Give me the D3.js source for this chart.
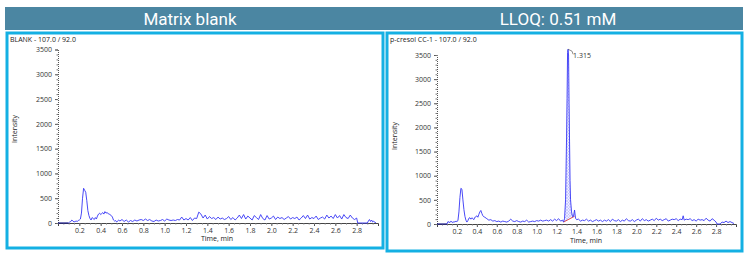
<!DOCTYPE html>
<html>
  <head>
    <meta charset="utf-8">
    <title>Chromatograms</title>
    <style>
      body { margin: 0; background: #fff; }
      svg text { font-family: "Open Sans", "DejaVu Sans", sans-serif; }
      .tick-label { font-size: 7px; fill: #333; }
      .axis-title { font-size: 7px; fill: #222; }
      .header { font-family: Roboto, "Open Sans", sans-serif; font-size: 17px; fill: #fff; text-anchor: middle; }
    </style>
  </head>
  <body>
    <div class="container"></div>
    <script src="https://cdn.jsdelivr.net/npm/d3@7"></script>
    <script>
    var width = 750;
    var height = 259;

    // panel headers and chromatogram titles
    var headers = ["Matrix blank", "LLOQ: 0.51 mM"];
    var titles = ["BLANK - 107.0 / 92.0", "p-cresol CC-1 - 107.0 / 92.0"];

    var yTicks = [0, 500, 1000, 1500, 2000, 2500, 3000, 3500];
    var xTicks = [0.2, 0.4, 0.6, 0.8, 1.0, 1.2, 1.4, 1.6, 1.8, 2.0, 2.2, 2.4, 2.6, 2.8];

    // blank trace (time in min, intensity)
    var blankTime = [0, 0.10, 0.11, 0.12, 0.13, 0.14, 0.15, 0.16, 0.17, 0.18, 0.19, 0.20, 0.21, 0.22, 0.23, 0.24, 0.25, 0.26, 0.27, 0.28, 0.29,
      0.30, 0.31, 0.32, 0.33, 0.34, 0.35, 0.36, 0.37, 0.38, 0.39, 0.40, 0.41, 0.42, 0.43, 0.44, 0.45, 0.46, 0.47, 0.48, 0.50,
      0.51, 0.52, 0.53, 0.54, 0.55, 0.57, 0.58, 0.60, 0.62, 0.64, 0.66, 0.68, 0.70, 0.72, 0.74, 0.76, 0.78, 0.80, 0.82, 0.84,
      0.86, 0.88, 0.90, 0.92, 0.94, 0.96, 0.98, 1.00, 1.02, 1.04, 1.06, 1.08, 1.10, 1.12, 1.14, 1.16, 1.18, 1.20, 1.22, 1.24,
      1.26, 1.28, 1.30, 1.32, 1.34, 1.36, 1.38, 1.40, 1.42, 1.44, 1.46, 1.48, 1.50, 1.52, 1.54, 1.56, 1.58, 1.60, 1.62, 1.64,
      1.66, 1.68, 1.70, 1.72, 1.74, 1.76, 1.78, 1.80, 1.82, 1.84, 1.86, 1.88, 1.90, 1.92, 1.94, 1.96, 1.98, 2.00, 2.02, 2.04,
      2.06, 2.08, 2.10, 2.12, 2.14, 2.16, 2.18, 2.20, 2.22, 2.24, 2.26, 2.28, 2.30, 2.32, 2.34, 2.36, 2.38, 2.40, 2.42, 2.44,
      2.46, 2.48, 2.50, 2.52, 2.54, 2.56, 2.58, 2.60, 2.62, 2.64, 2.66, 2.68, 2.70, 2.72, 2.74, 2.76, 2.78, 2.80, 2.81, 2.90,
      2.91, 2.92, 2.93, 2.94, 2.95, 2.96, 2.97, 2.98];
    var blankIntensity = [0, 0, 20, 30, 60, 40, 20, 30, 40, 30, 50, 60, 80, 200, 500, 700, 660, 620, 450, 250, 150,
      90, 60, 110, 90, 70, 110, 80, 140, 180, 200, 170, 190, 210, 180, 230, 200, 210, 190, 180, 150,
      120, 60, 40, 50, 20, 60, 40, 70, 30, 60, 20, 50, 30, 60, 40, 60, 70, 50, 80, 50,
      70, 40, 30, 60, 40, 50, 70, 40, 80, 60, 50, 60, 50, 70, 60, 120, 60, 90, 60, 110,
      50, 100, 90, 220, 180, 100, 160, 80, 130, 90, 110, 70, 120, 80, 100, 70, 90, 130, 70, 110,
      60, 100, 160, 90, 170, 80, 140, 100, 60, 150, 110, 70, 170, 90, 60, 150, 80, 100, 140, 70,
      120, 90, 110, 70, 100, 130, 80, 110, 90, 120, 60, 100, 150, 90, 160, 80, 110, 90, 140, 70,
      100, 120, 80, 160, 100, 140, 90, 170, 100, 150, 80, 170, 110, 90, 160, 100, 70, 100, 0, 0,
      40, 70, 30, 60, 20, 40, 10, 10];

    // p-cresol trace
    var sampleTime = [0, 0.10, 0.11, 0.12, 0.13, 0.14, 0.15, 0.16, 0.17, 0.18, 0.19, 0.20, 0.21, 0.22, 0.23, 0.24, 0.25, 0.26, 0.27, 0.28, 0.29,
      0.30, 0.31, 0.32, 0.33, 0.34, 0.35, 0.36, 0.37, 0.38, 0.39, 0.40, 0.41, 0.42, 0.43, 0.44, 0.45, 0.46, 0.47, 0.48, 0.50,
      0.52, 0.54, 0.56, 0.58, 0.60, 0.62, 0.64, 0.66, 0.68, 0.70, 0.72, 0.74, 0.76, 0.78, 0.80, 0.82, 0.84, 0.86, 0.88, 0.90,
      0.92, 0.94, 0.96, 0.98, 1.00, 1.02, 1.04, 1.06, 1.08, 1.10, 1.12, 1.14, 1.16, 1.18, 1.20, 1.22, 1.24, 1.26, 1.27, 1.28,
      1.29, 1.30, 1.305, 1.31, 1.315, 1.32, 1.325, 1.33, 1.335, 1.34, 1.35, 1.36, 1.37, 1.38, 1.39, 1.40, 1.42, 1.44, 1.46, 1.48,
      1.50, 1.52, 1.54, 1.56, 1.58, 1.60, 1.62, 1.64, 1.66, 1.68, 1.70, 1.72, 1.74, 1.76, 1.78, 1.80, 1.82, 1.84, 1.86, 1.88,
      1.90, 1.92, 1.94, 1.96, 1.98, 2.00, 2.02, 2.04, 2.06, 2.08, 2.10, 2.12, 2.14, 2.16, 2.18, 2.20, 2.22, 2.24, 2.26, 2.28,
      2.30, 2.32, 2.34, 2.36, 2.38, 2.40, 2.42, 2.44, 2.46, 2.47, 2.48, 2.50, 2.52, 2.54, 2.56, 2.58, 2.60, 2.62, 2.64, 2.66,
      2.68, 2.70, 2.72, 2.74, 2.76, 2.78, 2.80, 2.81, 2.84, 2.86, 2.88, 2.90, 2.92, 2.94, 2.96, 2.98];
    var sampleIntensity = [0, 0, 50, 40, 30, 60, 40, 30, 50, 40, 60, 50, 70, 250, 550, 740, 720, 500, 300, 160, 80,
      40, 70, 120, 130, 100, 130, 110, 90, 140, 150, 170, 140, 200, 250, 280, 220, 170, 150, 140, 110,
      80, 90, 60, 70, 50, 60, 40, 60, 50, 40, 60, 100, 60, 50, 70, 50, 40, 60, 50, 80,
      40, 50, 60, 50, 70, 60, 80, 60, 70, 80, 60, 90, 60, 100, 70, 110, 60, 80, 40, 120,
      500, 1800, 2600, 3550, 3620, 3500, 2500, 1700, 900, 500, 250, 150, 160, 290, 120, 90, 100, 60, 80, 70,
      100, 60, 80, 50, 70, 90, 60, 80, 50, 80, 60, 90, 50, 100, 70, 60, 90, 50, 80, 60,
      110, 70, 60, 90, 50, 80, 100, 60, 110, 70, 90, 60, 80, 100, 70, 120, 80, 100, 70, 90,
      110, 60, 80, 100, 90, 110, 70, 100, 90, 170, 80, 100, 90, 110, 70, 90, 60, 100, 80, 90,
      70, 120, 80, 60, 110, 80, 40, 0, 0, 40, 30, 60, 30, 50, 30, 10];

    // integrated peak: start/end time and baseline intensity at each end
    var peakTimes = [1.27, 1.38];
    var peakBase = [40, 160];
    var peakLabel = "1.315";

    var svg = d3.select(".container")
        .append("svg")
        .attr("width", width)
        .attr("height", height);

    var defs = svg.append("defs");
    var hatch = defs.append("pattern")
        .attr("id", "hatch")
        .attr("patternUnits", "userSpaceOnUse")
        .attr("width", 3)
        .attr("height", 3);
    hatch.append("rect").attr("width", 3).attr("height", 3).attr("fill", "#eeeeff");
    hatch.append("path").attr("d", "M0,3 L3,0 M0,0 L3,3").attr("stroke", "#a0a0ff").attr("stroke-width", 0.4);

    // header bar
    svg.append("rect")
        .attr("x", 5).attr("y", 7)
        .attr("width", 738).attr("height", 23)
        .attr("fill", "#4b86a2");

    var panels = [
      { box: [7, 33, 376, 215], x: [58, 378], y: [223, 49.5], head: 190, time: blankTime, val: blankIntensity, yTitle: 129, xTitle: [217, 241], peak: false },
      { box: [387, 33, 355, 218], x: [437, 736], y: [224, 55], head: 558, time: sampleTime, val: sampleIntensity, yTitle: 136, xTitle: [586, 243], peak: true }
    ];

    panels.forEach(function(p, i) {
      svg.append("text")
          .attr("class", "header")
          .attr("x", p.head)
          .attr("y", 25)
          .text(headers[i]);

      svg.append("rect")
          .attr("x", p.box[0]).attr("y", p.box[1])
          .attr("width", p.box[2]).attr("height", p.box[3])
          .attr("fill", "#fff")
          .attr("stroke", "#14b0e3")
          .attr("stroke-width", 3);

      svg.append("text")
          .attr("class", "axis-title")
          .attr("x", p.box[0] + 3)
          .attr("y", p.box[1] + 9)
          .text(titles[i]);

      var x = d3.scaleLinear().domain([0, 3.0]).range(p.x);
      var y = d3.scaleLinear().domain([0, 3500]).range(p.y);
      var g = svg.append("g");

      // y axis
      var yAxis = d3.axisLeft(y).tickValues(yTicks).tickSize(3).tickPadding(3).tickFormat(d3.format("d"));
      var ya = g.append("g").attr("transform", "translate(" + p.x[0] + ",0)").call(yAxis);
      ya.select(".domain").attr("stroke", "#555").attr("stroke-dasharray", "1,1");
      ya.selectAll(".tick line").attr("stroke", "#555");
      ya.selectAll(".tick text").attr("class", "tick-label").style("font-size", "7px");
      var yMinor = d3.axisLeft(y).tickValues(d3.range(0, 3501, 100)).tickSize(1.5).tickFormat("");
      g.append("g").attr("transform", "translate(" + p.x[0] + ",0)").call(yMinor)
          .call(function(s) { s.select(".domain").remove(); s.selectAll("line").attr("stroke", "#777"); });

      // x axis
      var xAxis = d3.axisBottom(x).tickValues(xTicks).tickSize(3).tickPadding(2).tickFormat(d3.format(".1f"));
      var xa = g.append("g").attr("transform", "translate(0," + p.y[0] + ")").call(xAxis);
      xa.select(".domain").attr("stroke", "#444");
      xa.selectAll(".tick line").attr("stroke", "#555");
      xa.selectAll(".tick text").attr("class", "tick-label").style("font-size", "7px");
      var xMinor = d3.axisBottom(x).tickValues(d3.range(0.05, 3.0, 0.05)).tickSize(1.5).tickFormat("");
      g.append("g").attr("transform", "translate(0," + p.y[0] + ")").call(xMinor)
          .call(function(s) { s.select(".domain").remove(); s.selectAll("line").attr("stroke", "#777"); });

      g.append("text")
          .attr("class", "axis-title")
          .attr("transform", "translate(" + (p.box[0] + 10) + "," + p.yTitle + ") rotate(-90)")
          .attr("text-anchor", "middle")
          .text("Intensity");
      g.append("text")
          .attr("class", "axis-title")
          .attr("x", p.xTitle[0]).attr("y", p.xTitle[1])
          .attr("text-anchor", "middle")
          .text("Time, min");

      var pts = p.time.map(function(t, k) { return [t, p.val[k]]; });

      if (p.peak) {
        var inPeak = pts.filter(function(d) { return d[0] >= peakTimes[0] && d[0] <= peakTimes[1]; });
        var base = d3.scaleLinear().domain(peakTimes).range(peakBase);
        var area = d3.area()
            .x(function(d) { return x(d[0]); })
            .y0(function(d) { return y(base(d[0])); })
            .y1(function(d) { return y(d[1]); });
        g.append("path").datum(inPeak).attr("d", area).attr("fill", "url(#hatch)");
        g.append("line")
            .attr("x1", x(peakTimes[0])).attr("y1", y(peakBase[0]))
            .attr("x2", x(peakTimes[1])).attr("y2", y(peakBase[1]))
            .attr("stroke", "#e05050").attr("stroke-width", 1);
      }

      var line = d3.line()
          .x(function(d) { return x(d[0]); })
          .y(function(d) { return y(d[1]); });

      // flat lead-in before the signal starts
      g.append("path").datum(pts.slice(0, 2)).attr("d", line)
          .attr("fill", "none").attr("stroke", "#1a1a8c").attr("stroke-width", 1.2);
      g.append("path").datum(pts.slice(1)).attr("d", line)
          .attr("fill", "none").attr("stroke", "#3535f5").attr("stroke-width", 0.9);

      if (p.peak) {
        var top = d3.greatest(pts, function(d) { return d[1]; });
        g.append("path")
            .attr("d", "M" + x(top[0]) + "," + y(top[1]) + " l4,2 l1,3")
            .attr("fill", "none").attr("stroke", "#444").attr("stroke-width", 0.6);
        g.append("text")
            .attr("class", "tick-label")
            .attr("x", x(top[0]) + 5)
            .attr("y", y(top[1]) + 9)
            .text(peakLabel);
      }
    });
    </script>
  </body>
</html>
